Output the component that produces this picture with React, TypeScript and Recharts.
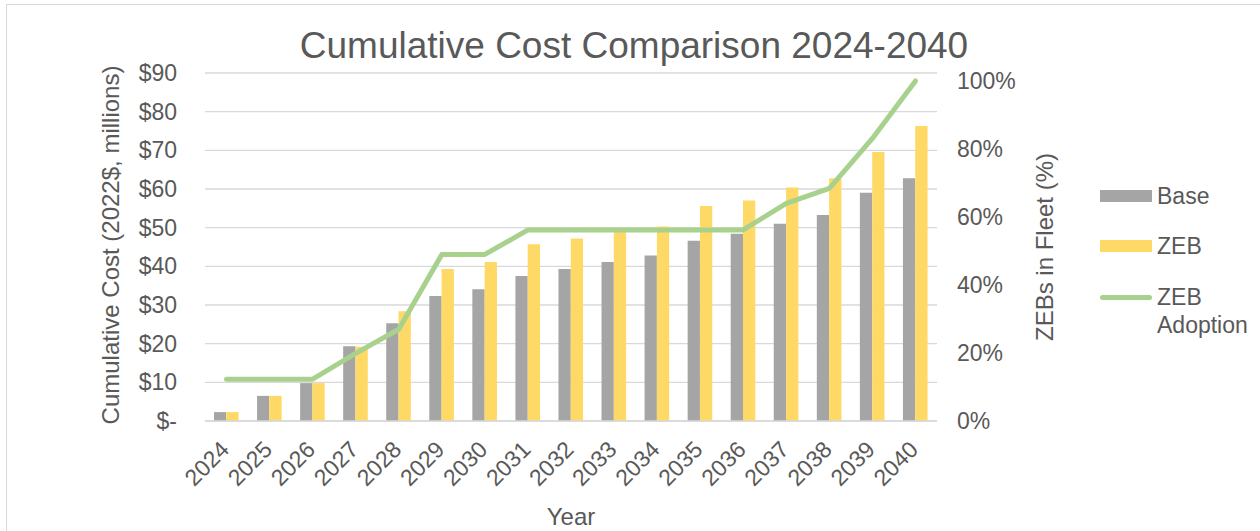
import React from 'react';
import {
  ComposedChart,
  Bar,
  Line,
  XAxis,
  YAxis,
  CartesianGrid,
  Legend,
} from 'recharts';

// values
const years = ['2024', '2025', '2026', '2027', '2028', '2029', '2030', '2031', '2032', '2033', '2034', '2035', '2036', '2037', '2038', '2039', '2040'];
const baseCost = [2.3, 6.5, 9.8, 19.3, 25.3, 32.3, 34.1, 37.5, 39.3, 41.1, 42.8, 46.6, 48.4, 51.0, 53.3, 59.0, 62.8];
const zebCost = [2.3, 6.5, 9.8, 19.2, 28.4, 39.3, 41.1, 45.7, 47.2, 49.0, 50.3, 55.6, 57.0, 60.4, 62.8, 69.6, 76.3];
const zebAdoption = [12.3, 12.3, 12.3, 19.9, 27.0, 49.0, 49.0, 56.2, 56.2, 56.2, 56.2, 56.2, 56.2, 64.0, 68.4, 83.1, 100];

const costTicks = [0, 10, 20, 30, 40, 50, 60, 70, 80, 90];
const pctTicks = [0, 20, 40, 60, 80, 100];

const FONT = '"Liberation Sans", Arial, sans-serif';
const TEXT = '#595959';
const GRID = '#d9d9d9';

const data = years.map((year, i) => ({
  year,
  Base: baseCost[i],
  ZEB: zebCost[i],
  'ZEB Adoption': zebAdoption[i],
}));

const YearTick = (props: any) => {
  const { x, y, payload } = props;
  const ax = x + 4;
  const ay = y + 22;
  return (
    <text
      x={ax}
      y={ay}
      transform={`rotate(-45, ${ax}, ${ay})`}
      textAnchor="end"
      fill={TEXT}
      fontSize={23}
      fontFamily={FONT}
    >
      {payload.value}
    </text>
  );
};

const LeftTitle = (props: any) => {
  const { viewBox } = props;
  const cx = viewBox.x + 110;
  const cy = viewBox.y + viewBox.height / 2 - 2;
  return (
    <text
      x={cx}
      y={cy}
      transform={`rotate(-90, ${cx}, ${cy})`}
      textAnchor="middle"
      dominantBaseline="central"
      fill={TEXT}
      fontSize={24}
      fontFamily={FONT}
    >
      Cumulative Cost (2022$, millions)
    </text>
  );
};

const RightTitle = (props: any) => {
  const { viewBox } = props;
  const cx = viewBox.x + 107;
  const cy = viewBox.y + viewBox.height / 2;
  return (
    <text
      x={cx}
      y={cy}
      transform={`rotate(-90, ${cx}, ${cy})`}
      textAnchor="middle"
      dominantBaseline="central"
      fill={TEXT}
      fontSize={24}
      fontFamily={FONT}
    >
      ZEBs in Fleet (%)
    </text>
  );
};

const renderLegend = (props: any) => {
  const items = props.payload || [];
  const rowTops = [10, 60, 117];
  return (
    <div style={{ position: 'relative', width: 160, height: 180, fontFamily: FONT, fontSize: 23, color: TEXT }}>
      {items.map((entry: any, i: number) => {
        const top = rowTops[i];
        const isLine = entry.type === 'line';
        return (
          <React.Fragment key={entry.value}>
            {isLine ? (
              <div
                style={{
                  position: 'absolute',
                  left: 0,
                  top: top - 2.5,
                  width: 52,
                  height: 5,
                  borderRadius: 3,
                  background: entry.color,
                }}
              />
            ) : (
              <div
                style={{
                  position: 'absolute',
                  left: 0,
                  top,
                  width: 52,
                  height: 12,
                  background: entry.color,
                }}
              />
            )}
            <div
              style={{
                position: 'absolute',
                left: 57,
                top: isLine ? top - 14 : top - 8,
                width: 103,
                lineHeight: '28px',
              }}
            >
              {entry.value}
            </div>
          </React.Fragment>
        );
      })}
    </div>
  );
};

export default function App() {
  return (
    <div
      style={{
        position: 'absolute',
        left: 0,
        top: 0,
        width: 1260,
        height: 531,
        overflow: 'hidden',
        background: '#fff',
      }}
    >
      <div
        style={{
          position: 'absolute',
          left: 6,
          top: 4,
          width: 1400,
          height: 700,
          border: `1.5px solid ${GRID}`,
        }}
      />
      <div
        style={{
          position: 'absolute',
          left: 0,
          top: 26,
          width: 1268,
          textAlign: 'center',
          fontFamily: FONT,
          fontSize: 37,
          color: TEXT,
          lineHeight: '40px',
        }}
      >
        Cumulative Cost Comparison 2024-2040
      </div>
      <ComposedChart
        width={1260}
        height={531}
        data={data}
        margin={{ top: 73, right: 223, bottom: 0, left: 0 }}
        barGap={0}
        style={{ position: 'absolute', left: 0, top: 0 }}
      >
        <CartesianGrid yAxisId="cost" vertical={false} stroke={GRID} strokeWidth={1.3} />
        <XAxis
          dataKey="year"
          height={110}
          interval={0}
          tickLine={false}
          axisLine={{ stroke: GRID, strokeWidth: 1.3 }}
          tick={<YearTick />}
          label={{ value: 'Year', position: 'insideBottom', offset: 6, fill: TEXT, fontSize: 24, fontFamily: FONT }}
        />
        <YAxis
          yAxisId="cost"
          width={205}
          domain={[0, 90]}
          ticks={costTicks}
          interval={0}
          tickLine={false}
          axisLine={false}
          tickSize={0}
          tickMargin={28}
          tick={{ fill: TEXT, fontSize: 23, fontFamily: FONT }}
          tickFormatter={(v: number) => (v === 0 ? '$-' : `$${v}`)}
          label={<LeftTitle />}
        />
        <YAxis
          yAxisId="pct"
          orientation="right"
          width={100}
          domain={[0, 102.35]}
          ticks={pctTicks}
          interval={0}
          tickLine={false}
          axisLine={false}
          tickSize={0}
          tickMargin={20}
          tick={{ fill: TEXT, fontSize: 23, fontFamily: FONT }}
          tickFormatter={(v: number) => `${v}%`}
          label={<RightTitle />}
        />
        <Legend
          layout="horizontal"
          verticalAlign="middle"
          align="center"
          width={160}
          content={renderLegend}
          wrapperStyle={{ left: 1100, top: 180, width: 160, height: 180 }}
        />
        <Bar yAxisId="cost" dataKey="Base" fill="#a5a5a5" barSize={12.3} isAnimationActive={false} />
        <Bar yAxisId="cost" dataKey="ZEB" fill="#ffd966" barSize={12.3} isAnimationActive={false} />
        <Line
          yAxisId="pct"
          type="linear"
          dataKey="ZEB Adoption"
          stroke="#a9d18e"
          strokeWidth={5}
          strokeLinecap="round"
          strokeLinejoin="round"
          dot={false}
          activeDot={false}
          legendType="line"
          isAnimationActive={false}
        />
      </ComposedChart>
    </div>
  );
}
